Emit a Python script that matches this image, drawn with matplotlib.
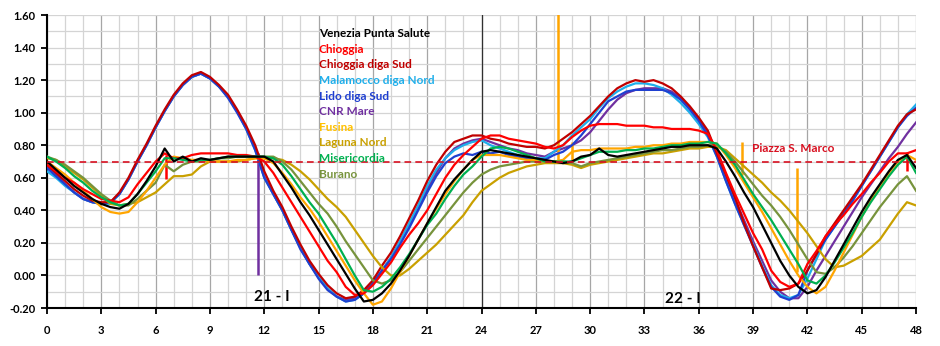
import matplotlib
matplotlib.use("Agg")
import matplotlib.pyplot as plt
from matplotlib.ticker import MultipleLocator
import numpy as np

plt.rcParams['font.family'] = ['Lato', 'DejaVu Sans']
plt.rcParams['font.weight'] = 'bold'

# time axis: every half hour, 0 .. 48 h
hours = np.arange(0, 48.01, 0.5)

venezia = [
    0.70, 0.65, 0.60, 0.55, 0.51, 0.47, 0.44, 0.42, 0.41, 0.44, 0.50, 0.58,
    0.67, 0.78, 0.70, 0.73, 0.70, 0.72, 0.71, 0.72, 0.73, 0.73, 0.73, 0.73,
    0.73, 0.70, 0.62, 0.54, 0.45, 0.37, 0.28, 0.19, 0.10, 0.01, -0.08, -0.16,
    -0.15, -0.11, -0.05, 0.03, 0.12, 0.22, 0.32, 0.42, 0.52, 0.59, 0.65, 0.71,
    0.76, 0.77, 0.76, 0.75, 0.74, 0.73, 0.72, 0.71, 0.70, 0.69, 0.70, 0.73,
    0.74, 0.78, 0.74, 0.73, 0.74, 0.75, 0.76, 0.77, 0.78, 0.79, 0.79, 0.80,
    0.80, 0.80, 0.78, 0.70, 0.61, 0.51, 0.42, 0.31, 0.20, 0.09, 0.00, -0.07,
    -0.11, -0.09, -0.01, 0.09, 0.19, 0.29, 0.39, 0.48, 0.56, 0.64, 0.71, 0.74,
    0.66]
chioggia = [
    0.68, 0.64, 0.60, 0.57, 0.53, 0.50, 0.47, 0.46, 0.45, 0.48, 0.56, 0.63,
    0.70, 0.75, 0.72, 0.72, 0.74, 0.75, 0.75, 0.75, 0.75, 0.74, 0.74, 0.73,
    0.70, 0.63, 0.54, 0.45, 0.36, 0.27, 0.18, 0.09, 0.02, -0.07, -0.12, -0.11,
    -0.06, 0.01, 0.08, 0.17, 0.25, 0.32, 0.40, 0.50, 0.60, 0.68, 0.74, 0.79,
    0.84, 0.86, 0.86, 0.84, 0.83, 0.82, 0.81, 0.79, 0.78, 0.80, 0.85, 0.89,
    0.92, 0.93, 0.93, 0.93, 0.92, 0.92, 0.92, 0.91, 0.91, 0.90, 0.90, 0.90,
    0.89, 0.87, 0.77, 0.63, 0.50, 0.38, 0.26, 0.16, 0.03, -0.04, -0.07, -0.05,
    0.07, 0.15, 0.24, 0.31, 0.37, 0.44, 0.50, 0.57, 0.63, 0.70, 0.75, 0.75,
    0.77]
chioggia_sud = [
    0.68, 0.63, 0.58, 0.53, 0.49, 0.46, 0.45, 0.45, 0.51, 0.60, 0.71, 0.81,
    0.92, 1.02, 1.11, 1.18, 1.23, 1.25, 1.22, 1.17, 1.11, 1.02, 0.92, 0.80,
    0.64, 0.52, 0.42, 0.30, 0.19, 0.09, 0.01, -0.06, -0.11, -0.14, -0.13, -0.09,
    -0.03, 0.06, 0.14, 0.24, 0.35, 0.46, 0.58, 0.68, 0.76, 0.82, 0.84, 0.86,
    0.86, 0.84, 0.83, 0.81, 0.80, 0.79, 0.79, 0.78, 0.80, 0.84, 0.88, 0.93,
    0.98, 1.04, 1.10, 1.15, 1.18, 1.20, 1.19, 1.20, 1.18, 1.15, 1.10, 1.04,
    0.97, 0.89, 0.75, 0.62, 0.48, 0.32, 0.18, 0.05, -0.08, -0.09, -0.08, -0.05,
    0.03, 0.13, 0.24, 0.32, 0.40, 0.48, 0.56, 0.65, 0.74, 0.83, 0.92, 0.99,
    1.02]
malamocco = [
    0.64, 0.60, 0.55, 0.51, 0.47, 0.45, 0.44, 0.44, 0.50, 0.59, 0.70, 0.80,
    0.91, 1.01, 1.10, 1.17, 1.22, 1.24, 1.21, 1.16, 1.10, 1.01, 0.90, 0.77,
    0.60, 0.50, 0.40, 0.28, 0.17, 0.07, -0.01, -0.08, -0.13, -0.16, -0.15, -0.11,
    -0.05, 0.03, 0.11, 0.21, 0.32, 0.43, 0.55, 0.65, 0.72, 0.77, 0.80, 0.82,
    0.83, 0.80, 0.78, 0.76, 0.74, 0.73, 0.72, 0.72, 0.76, 0.80, 0.86, 0.91,
    0.96, 1.03, 1.09, 1.13, 1.16, 1.18, 1.18, 1.17, 1.15, 1.11, 1.06, 1.00,
    0.93, 0.85, 0.73, 0.58, 0.44, 0.31, 0.19, 0.06, -0.06, -0.12, -0.14, -0.12,
    -0.02, 0.10, 0.22, 0.30, 0.38, 0.46, 0.55, 0.64, 0.73, 0.82, 0.91, 0.99,
    1.05]
lido = [
    0.66, 0.61, 0.56, 0.51, 0.47, 0.45, 0.44, 0.45, 0.50, 0.59, 0.70, 0.80,
    0.91, 1.01, 1.10, 1.17, 1.22, 1.24, 1.21, 1.16, 1.09, 1.00, 0.90, 0.77,
    0.60, 0.50, 0.40, 0.28, 0.16, 0.07, -0.02, -0.09, -0.13, -0.16, -0.15, -0.11,
    -0.05, 0.03, 0.10, 0.19, 0.29, 0.40, 0.51, 0.61, 0.69, 0.73, 0.75, 0.74,
    0.76, 0.75, 0.76, 0.74, 0.73, 0.72, 0.72, 0.71, 0.74, 0.76, 0.80, 0.86,
    0.93, 1.00, 1.07, 1.10, 1.13, 1.14, 1.14, 1.14, 1.14, 1.12, 1.08, 1.02,
    0.95, 0.86, 0.73, 0.58, 0.44, 0.31, 0.18, 0.05, -0.07, -0.13, -0.15, -0.12,
    0.03, 0.13, 0.22, 0.30, 0.38, 0.46, 0.55, 0.64, 0.73, 0.82, 0.91, 0.98,
    1.03]
cnr_mare = [
    0.67, 0.62, 0.56, 0.51, 0.47, 0.45, 0.44, 0.45, 0.50, 0.59, 0.70, 0.80,
    0.91, 1.01, 1.10, 1.17, 1.22, 1.24, 1.21, 1.16, 1.10, 1.01, 0.91, 0.78,
    0.61, 0.50, 0.40, 0.28, 0.17, 0.07, -0.01, -0.08, -0.13, -0.15, -0.14, -0.10,
    -0.05, 0.03, 0.11, 0.21, 0.31, 0.42, 0.53, 0.63, 0.72, 0.78, 0.81, 0.83,
    0.84, 0.82, 0.80, 0.78, 0.77, 0.75, 0.74, 0.73, 0.76, 0.78, 0.80, 0.83,
    0.88, 0.95, 1.02, 1.08, 1.12, 1.14, 1.15, 1.15, 1.15, 1.13, 1.09, 1.03,
    0.96, 0.87, 0.75, 0.61, 0.47, 0.34, 0.21, 0.09, -0.03, -0.10, -0.14, -0.14,
    -0.07, 0.03, 0.12, 0.21, 0.30, 0.39, 0.48, 0.56, 0.64, 0.72, 0.79, 0.87,
    0.94]
fusina = [
    0.70, 0.66, 0.62, 0.57, 0.52, 0.47, 0.42, 0.39, 0.38, 0.39, 0.45, 0.52,
    0.60, 0.68, 0.73, 0.72, 0.71, 0.71, 0.70, 0.70, 0.70, 0.71, 0.71, 0.72,
    0.72, 0.69, 0.63, 0.56, 0.48, 0.41, 0.33, 0.24, 0.15, 0.06, -0.03, -0.11,
    -0.18, -0.16, -0.08, 0.02, 0.12, 0.22, 0.32, 0.41, 0.50, 0.58, 0.65, 0.71,
    0.74, 0.74, 0.74, 0.73, 0.72, 0.71, 0.71, 0.70, 0.70, 0.71, 0.76, 0.77,
    0.77, 0.78, 0.78, 0.78, 0.78, 0.79, 0.79, 0.80, 0.80, 0.81, 0.81, 0.82,
    0.82, 0.82, 0.81, 0.74, 0.66, 0.57, 0.48, 0.39, 0.29, 0.19, 0.09, 0.00,
    -0.07, -0.11, -0.07, 0.03, 0.14, 0.25, 0.36, 0.46, 0.55, 0.63, 0.70, 0.74,
    0.71]
laguna_nord = [
    0.72, 0.71, 0.67, 0.63, 0.59, 0.54, 0.49, 0.44, 0.43, 0.44, 0.45, 0.48,
    0.51, 0.56, 0.61, 0.61, 0.62, 0.67, 0.70, 0.70, 0.70, 0.70, 0.71, 0.72,
    0.72, 0.72, 0.71, 0.68, 0.64, 0.59, 0.53, 0.47, 0.42, 0.36, 0.28, 0.20,
    0.12, 0.05, 0.00, 0.00, 0.04, 0.09, 0.14, 0.19, 0.25, 0.31, 0.37, 0.45,
    0.52, 0.56, 0.60, 0.63, 0.65, 0.67, 0.68, 0.69, 0.69, 0.69, 0.68, 0.66,
    0.68, 0.69, 0.70, 0.71, 0.72, 0.73, 0.74, 0.75, 0.75, 0.76, 0.77, 0.78,
    0.78, 0.79, 0.79, 0.77, 0.72, 0.67, 0.62, 0.57, 0.51, 0.46, 0.40, 0.33,
    0.26, 0.18, 0.10, 0.05, 0.06, 0.09, 0.12, 0.17, 0.22, 0.30, 0.38, 0.45,
    0.43]
misericordia = [
    0.73, 0.70, 0.66, 0.61, 0.57, 0.52, 0.48, 0.45, 0.43, 0.44, 0.50, 0.57,
    0.64, 0.72, 0.72, 0.71, 0.70, 0.71, 0.71, 0.72, 0.73, 0.73, 0.73, 0.73,
    0.73, 0.72, 0.68, 0.61, 0.53, 0.45, 0.38, 0.29, 0.20, 0.10, 0.00, -0.09,
    -0.10, -0.07, -0.02, 0.05, 0.13, 0.22, 0.31, 0.38, 0.47, 0.55, 0.62, 0.67,
    0.73, 0.78, 0.79, 0.78, 0.76, 0.74, 0.72, 0.70, 0.70, 0.70, 0.70, 0.72,
    0.74, 0.76, 0.76, 0.76, 0.77, 0.77, 0.78, 0.78, 0.79, 0.80, 0.80, 0.81,
    0.81, 0.82, 0.81, 0.75, 0.68, 0.59, 0.50, 0.42, 0.34, 0.25, 0.16, 0.07,
    -0.03, -0.05, 0.00, 0.08, 0.17, 0.26, 0.36, 0.45, 0.53, 0.61, 0.68, 0.73,
    0.63]
burano = [
    0.73, 0.71, 0.68, 0.64, 0.60, 0.55, 0.50, 0.46, 0.43, 0.43, 0.47, 0.52,
    0.57, 0.68, 0.64, 0.68, 0.70, 0.70, 0.71, 0.72, 0.72, 0.73, 0.73, 0.73,
    0.73, 0.73, 0.70, 0.65, 0.58, 0.51, 0.44, 0.38, 0.30, 0.21, 0.13, 0.05,
    -0.03, -0.05, -0.03, 0.02, 0.09, 0.16, 0.23, 0.30, 0.37, 0.44, 0.51, 0.57,
    0.62, 0.65, 0.67, 0.68, 0.69, 0.70, 0.70, 0.70, 0.70, 0.70, 0.69, 0.67,
    0.69, 0.70, 0.71, 0.72, 0.73, 0.74, 0.75, 0.76, 0.77, 0.77, 0.78, 0.79,
    0.79, 0.80, 0.80, 0.76, 0.70, 0.63, 0.56, 0.49, 0.43, 0.36, 0.28, 0.19,
    0.10, 0.02, 0.01, 0.05, 0.11, 0.18, 0.26, 0.34, 0.42, 0.49, 0.56, 0.61,
    0.52]

# isolated spikes: (series, hour, from, to)
spikes = [
    ('CNR Mare', 11.65, 0.75, 0.00),
    ('Chioggia', 6.6, 0.74, 0.59),
    ('Chioggia', 47.5, 0.76, 0.64),
    ('Fusina', 28.2, 0.70, 1.62),
    ('Fusina', 29.0, 0.71, 0.82),
    ('Fusina', 38.4, 0.62, 0.82),
    ('Fusina', 41.4, 0.02, 0.66),
]

names = ['Venezia Punta Salute', 'Chioggia', 'Chioggia diga Sud', 'Malamocco diga Nord',
         'Lido diga Sud', 'CNR Mare', 'Fusina', 'Laguna Nord', 'Misericordia', 'Burano']
series = [venezia, chioggia, chioggia_sud, malamocco, lido, cnr_mare,
          fusina, laguna_nord, misericordia, burano]
colors = ['#000000', '#FF0000', '#C00000', '#1EAEEA', '#1F3FD0', '#7030A0',
          '#FFA500', '#C9A000', '#00B050', '#77933C']
text_colors = colors.copy()
text_colors[6] = '#FFC000'
draw_order = [5, 3, 4, 2, 7, 9, 6, 1, 8, 0]

fig = plt.figure(figsize=(9.4, 3.46), dpi=100)
ax = fig.add_axes([0.05, 0.1098, 0.9245, 0.8468])

for i in draw_order:
    ax.plot(hours, series[i], color=colors[i], lw=1.6, zorder=3 + draw_order.index(i) * 0.1)

for name, h, y0, y1 in spikes:
    c = colors[names.index(name)]
    ax.vlines(h, y0, y1, color=c, lw=1.8, zorder=3)

ax.axhline(0.70, color='#D81020', lw=1.2, ls=(0, (4, 2.5)), zorder=4)
ax.axvline(24, color='#303030', lw=0.9, zorder=2)

ax.set_xlim(0, 48)
ax.set_ylim(-0.2, 1.6)
ax.xaxis.set_major_locator(MultipleLocator(3))
ax.xaxis.set_minor_locator(MultipleLocator(1))
ax.yaxis.set_major_locator(MultipleLocator(0.2))
ax.yaxis.set_minor_locator(MultipleLocator(0.1))
ax.set_yticklabels([f'{v:.2f}' for v in ax.get_yticks()])
ax.grid(which='major', axis='x', color='#A6A6A6', lw=0.9)
ax.grid(which='minor', axis='x', color='#D4D4D4', lw=0.9)
ax.grid(which='both', axis='y', color='#D4D4D4', lw=0.9)
ax.set_axisbelow(True)
ax.tick_params(which='minor', length=0)
ax.tick_params(which='major', direction='out', length=4, width=1.3, labelsize=8, pad=4)
ax.tick_params(axis='x', pad=8)
for s in ['top', 'right']:
    ax.spines[s].set_visible(False)
for s in ['left', 'bottom']:
    ax.spines[s].set_linewidth(1.5)

# station labels in place of a legend
for k, name in enumerate(names):
    ax.text(15.0, 1.485 - k * 0.0958, name, color=text_colors[k], fontsize=8.5,
            fontweight='bold', va='center', ha='left', zorder=6)

ax.text(38.95, 0.777, 'Piazza S. Marco', color='#D81020', fontsize=8.5,
        fontweight='bold', va='center', ha='left', zorder=6)
ax.text(12.4, -0.135, '21 - I', fontsize=11, fontweight='bold', ha='center', va='center', zorder=6)
ax.text(35.1, -0.145, '22 - I', fontsize=11, fontweight='bold', ha='center', va='center', zorder=6)

fig.savefig('out.png', dpi=100)
